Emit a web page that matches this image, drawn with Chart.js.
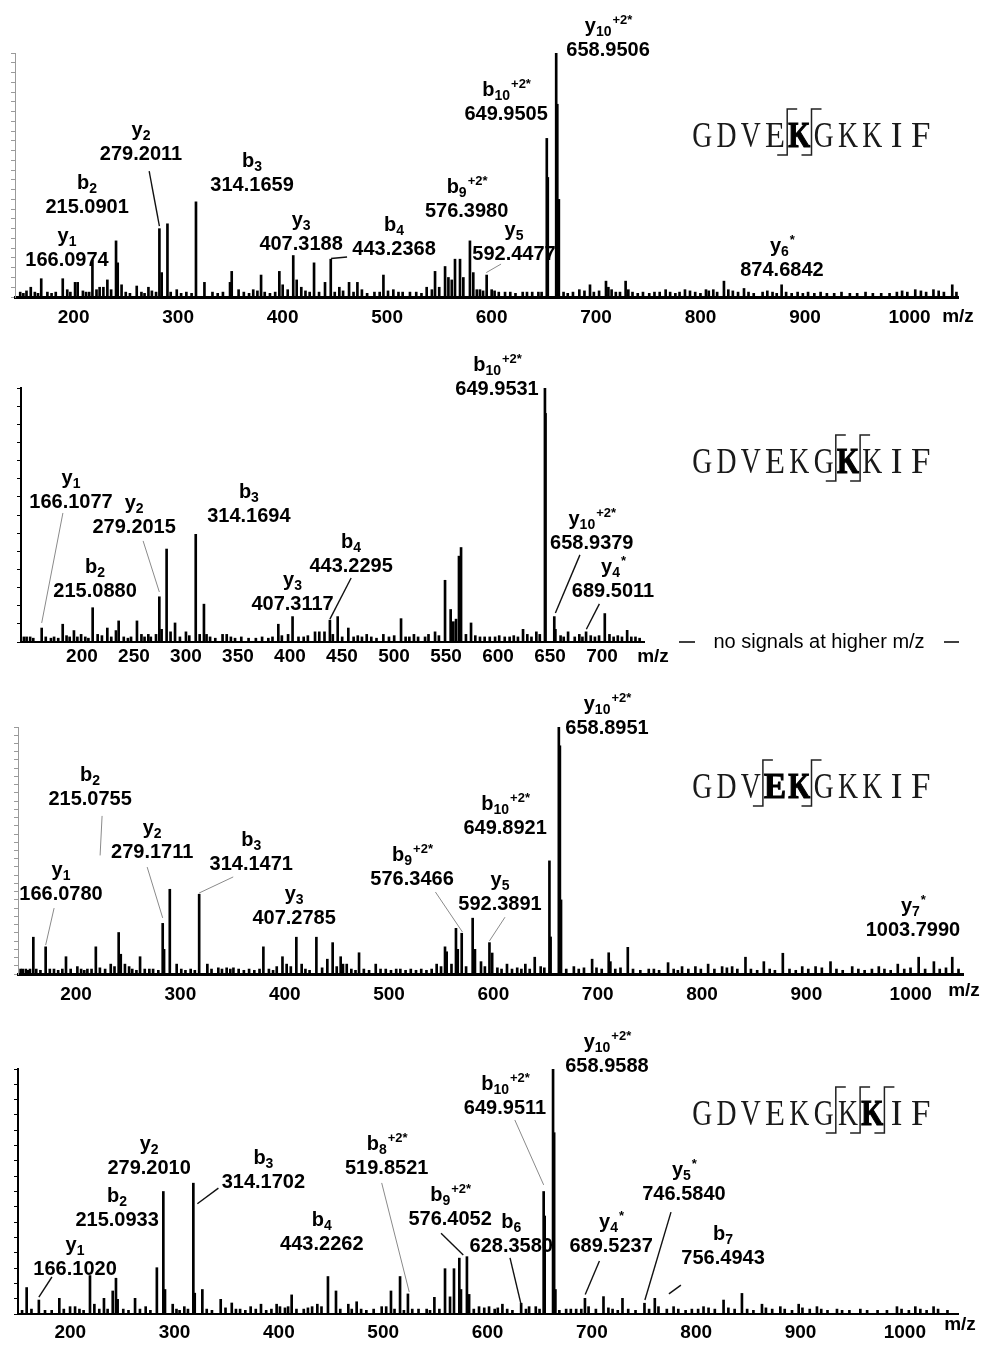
<!DOCTYPE html>
<html>
<head>
<meta charset="utf-8">
<script src="https://cdn.jsdelivr.net/npm/chart.js@4.4.1/dist/chart.umd.min.js"></script>
<style>
  html, body { margin: 0; padding: 0; background: #fff; }
  #wrap { position: relative; width: 981px; height: 1345px; }
  .panel { position: absolute; left: 0; width: 981px; }
  canvas { display: block; }
</style>
</head>
<body>
<div id="wrap">
  <div class="panel" style="top:0;height:335px"><canvas id="c1" width="981" height="335"></canvas></div>
  <div class="panel" style="top:335px;height:335px"><canvas id="c2" width="981" height="335"></canvas></div>
  <div class="panel" style="top:670px;height:340px"><canvas id="c3" width="981" height="340"></canvas></div>
  <div class="panel" style="top:1010px;height:335px"><canvas id="c4" width="981" height="335"></canvas></div>
</div>
<script>
var SANS = '"Liberation Sans", Arial, sans-serif';
var SERIF = '"Liberation Serif", "Times New Roman", serif';

// ===== Data =====
// x tick labels (m/z)
var ticksWide = [200, 300, 400, 500, 600, 700, 800, 900, 1000];
var ticksNarrow = [200, 250, 300, 350, 400, 450, 500, 550, 600, 650, 700];

// peptide sequences
var seq1 = 'GDVEKGKKIF', seq1Bold = [4], seq1Cuts = [4, 5];
var seq2 = 'GDVEKGKKIF', seq2Bold = [6], seq2Cuts = [6, 7];
var seq3 = 'GDVEKGKKIF', seq3Bold = [3, 4], seq3Cuts = [3, 5];
var seq4 = 'GDVEKGKKIF', seq4Bold = [7], seq4Cuts = [6, 7, 8];

// panel 1 peaks [m/z, relative intensity]
var p1Peaks = [
  [156.1,.04],[166.1,.075],[186.7,.075],[198.5,.06],[201.0,.06],[215.1,.15],[222.0,.04],[225.6,.04],
  [229.4,.07],[237.7,.23],[239.3,.14],[243.0,.05],[257.5,.045],[268.7,.04],[279.2,.28],[281.4,.10],
  [286.9,.30],[295.8,.03],[314.2,.39],[322.3,.06],[346.8,.06],[348.4,.105],[369.0,.03],[376.5,.09],
  [394.0,.105],[397.2,.05],[407.3,.17],[410.6,.07],[427.2,.14],[437.7,.06],[443.2,.155],[451.4,.04],
  [460.7,.06],[468.7,.06],[493.6,.09],[503.1,.03],[519.0,.02],[535.0,.04],[543.0,.105],[552.6,.125],
  [555.8,.08],[559.0,.07],[562.1,.155],[566.9,.155],[570.1,.08],[576.4,.23],[579.6,.10],[586.0,.03],
  [592.4,.09],[597.2,.03],[610.0,.02],[626.9,.02],[641.9,.02],[649.95,.65],[650.9,.49],[658.95,1.0],
  [660.0,.79],[661.5,.40],[681.1,.03],[691.3,.05],[706.6,.065],[708.9,.04],[725.4,.065],[728.0,.03],
  [763.7,.03],[782.2,.03],[802.3,.03],[809.3,.03],[819.5,.065],[823.7,.03],[838.7,.035],[856.5,.02],
  [874.7,.05],[884.3,.015],[985.0,.02],[1002.6,.03],[1020.0,.03],[1038.0,.05]
];
var p1Noise = [
  [146,.02],[149,.015],[152,.025],[160,.02],[163,.015],[172,.02],[176,.015],[180,.02],[191,.03],[194,.02],
  [206,.025],[209,.02],[212,.02],[219,.03],[233,.03],[247,.02],[251,.015],[262,.02],[265,.015],[272,.025],
  [276,.02],[290,.02],[300,.015],[305,.02],[310,.015],[330,.02],[335,.015],[340,.02],[355,.03],[360,.02],
  [365,.015],[373,.025],[380,.02],[385,.015],[390,.02],[402,.03],[415,.04],[419,.025],[423,.02],[432,.02],
  [447,.02],[455,.025],[465,.02],[473,.03],[478,.015],[485,.02],[490,.02],[498,.025],[508,.02],[512,.02],
  [525,.02],[530,.015],[540,.03],[547,.04],[583,.03],[589,.025],[600,.025],[604,.02],[615,.02],[620,.015],
  [631,.02],[636,.02],[645,.02],[666,.02],[670,.015],[675,.02],[686,.025],[695,.02],[700,.025],[712,.03],
  [716,.02],[720,.02],[732,.02],[737,.015],[742,.02],[748,.015],[753,.02],[758,.02],[768,.02],[773,.015],
  [777,.02],[787,.025],[792,.02],[797,.015],[805,.025],[813,.02],[828,.025],[833,.02],[843,.02],[848,.015],
  [861,.025],[866,.02],[870,.015],[879,.02],[890,.02],[895,.015],[900,.02],[906,.015],[912,.02],[918,.015],
  [925,.015],[932,.02],[940,.015],[947,.015],[955,.02],[962,.015],[970,.015],[978,.015],[990,.025],[995,.02],
  [1008,.025],[1013,.02],[1025,.025],[1030,.02],[1042,.02]
];
var p1Ions = [
  ['y','1','','166.0974'],['b','2','','215.0901'],['y','2','','279.2011'],['b','3','','314.1659'],
  ['y','3','','407.3188'],['b','4','','443.2368'],['b','9','+2*','576.3980'],['y','5','','592.4477'],
  ['b','10','+2*','649.9505'],['y','10','+2*','658.9506'],['y','6','*','874.6842']
];

// panel 2 peaks
var p2Peaks = [
  [149.0,.02],[151.6,.02],[166.1,.055],[186.3,.07],[197.1,.045],[200.4,.02],[215.1,.135],[219.9,.03],
  [229.2,.055],[237.5,.045],[240.1,.083],[257.7,.083],[268.6,.03],[276.0,.03],[279.2,.178],[281.4,.05],
  [286.2,.366],[294.3,.075],[304.8,.04],[314.2,.424],[322.1,.149],[324.6,.03],[344.0,.03],[393.6,.07],
  [403.0,.03],[407.3,.10],[428.9,.04],[433.0,.04],[443.2,.086],[450.7,.10],[460.9,.055],[478.6,.03],
  [494.6,.03],[511.6,.092],[519.6,.02],[534.7,.02],[544.3,.04],[553.9,.243],[559.3,.128],[561.9,.08],
  [564.5,.09],[567.3,.338],[569.3,.372],[578.9,.075],[587.5,.02],[596.9,.02],[611.3,.02],[628.9,.05],
  [641.7,.04],[649.95,1.0],[650.5,.90],[658.94,.10],[660.0,.05],[672.2,.04],[678.6,.02],[689.5,.04],
  [707.5,.112],[729.0,.046]
];
var p2Noise = [
  [155,.02],[158,.015],[170,.02],[175,.015],[178,.02],[182,.015],[190,.025],[193,.02],[204,.03],[208,.02],
  [211,.015],[224,.025],[233,.02],[245,.02],[249,.015],[252,.02],[262,.03],[265,.02],[271,.02],[290,.04],
  [299,.02],[308,.025],[318,.03],[328,.02],[333,.015],[340,.03],[348,.02],[352,.015],[358,.02],[365,.015],
  [372,.015],[378,.02],[384,.015],[388,.02],[397,.025],[413,.02],[418,.02],[422,.025],[438,.04],[446,.03],
  [455,.02],[466,.02],[470,.025],[474,.02],[483,.02],[488,.015],[500,.02],[505,.025],[516,.02],[524,.03],
  [528,.02],[538,.03],[548,.025],[574,.03],[583,.025],[592,.02],[602,.02],[606,.025],[616,.02],[620,.025],
  [624,.02],[633,.03],[637,.02],[645,.03],[665,.025],[668,.02],[683,.03],[686,.02],[694,.025],[698,.02],
  [702,.025],[712,.03],[716,.02],[720,.025],[724,.02],[733,.02],[737,.02],[741,.015]
];
var p2Ions = [
  ['y','1','','166.1077'],['b','2','','215.0880'],['y','2','','279.2015'],['b','3','','314.1694'],
  ['y','3','','407.3117'],['b','4','','443.2295'],['b','10','+2*','649.9531'],['y','10','+2*','658.9379'],
  ['y','4','*','689.5011']
];

// panel 3 peaks
var p3Peaks = [
  [145.0,.02],[148.0,.02],[152.0,.02],[155.2,.149],[167.0,.11],[186.5,.07],[197.4,.03],[207.0,.02],
  [215.1,.11],[229.4,.04],[237.0,.168],[239.0,.08],[243.0,.04],[257.5,.07],[266.4,.02],[279.2,.205],
  [280.5,.10],[286.0,.343],[292.6,.04],[314.15,.323],[322.0,.04],[332.5,.025],[340.5,.025],[347.0,.025],
  [375.7,.11],[388.5,.03],[394.0,.07],[407.3,.149],[412.4,.04],[426.5,.149],[437.0,.06],[442.1,.127],
  [449.8,.07],[455.6,.04],[467.4,.086],[483.4,.04],[541.8,.04],[549.8,.11],[551.4,.09],[560.3,.185],
  [562.0,.10],[565.8,.165],[576.3,.226],[578.5,.10],[584.3,.05],[592.4,.127],[595.0,.085],[609.2,.04],
  [626.8,.04],[635.8,.068],[641.5,.03],[649.89,.458],[651.0,.15],[658.9,1.0],[659.9,.924],[661.0,.30],
  [673.3,.03],[690.8,.06],[706.7,.086],[708.3,.05],[725.0,.108],[745.1,.02],[763.6,.046],[777.0,.03],
  [789.8,.03],[802.0,.04],[815.4,.03],[825.0,.03],[837.8,.068],[855.4,.05],[873.6,.084],[892.2,.03],
  [905.0,.03],[919.3,.05],[940.1,.03],[965.6,.03],[983.8,.04],[1003.8,.068],[1018.4,.05],[1036.0,.068]
];
var p3Noise = [
  [143,.02],[150,.015],[158,.02],[162,.015],[171,.02],[175,.02],[179,.015],[183,.02],[191,.02],[201,.02],
  [204,.015],[211,.02],[219,.025],[224,.02],[233,.03],[247,.03],[250,.02],[254,.015],[262,.02],[270,.02],
  [275,.015],[297,.02],[301,.015],[306,.02],[310,.015],[326,.02],[336,.02],[344,.02],[352,.02],[357,.015],
  [362,.02],[367,.015],[372,.02],[381,.02],[385,.015],[398,.04],[402,.03],[416,.02],[420,.015],[432,.025],
  [446,.03],[452,.04],[460,.02],[464,.015],[472,.02],[477,.015],[488,.02],[493,.02],[498,.015],[503,.02],
  [507,.02],[512,.015],[517,.02],[522,.015],[527,.02],[532,.015],[537,.02],[546,.03],[556,.04],[570,.03],
  [588,.03],[600,.025],[604,.02],[614,.02],[619,.025],[623,.02],[631,.02],[645,.025],[666,.02],[678,.02],
  [683,.025],[695,.025],[700,.02],[713,.02],[718,.025],[730,.02],[737,.015],[750,.02],[755,.015],[769,.02],
  [773,.015],[783,.02],[795,.02],[808,.02],[820,.025],[830,.02],[843,.02],[849,.015],[861,.02],[866,.015],
  [880,.02],[886,.015],[898,.02],[911,.025],[925,.02],[931,.015],[946,.02],[952,.015],[959,.02],[971,.02],
  [977,.015],[990,.02],[996,.025],[1010,.02],[1024,.02],[1030,.025],[1042,.02]
];
var p3Ions = [
  ['y','1','','166.0780'],['b','2','','215.0755'],['y','2','','279.1711'],['b','3','','314.1471'],
  ['y','3','','407.2785'],['b','9','+2*','576.3466'],['y','5','','592.3891'],['b','10','+2*','649.8921'],
  ['y','10','+2*','658.8951'],['y','7','*','1003.7990']
];

// panel 4 peaks
var p4Peaks = [
  [154.4,.108],[166.1,.057],[178.4,.015],[185.7,.064],[196.0,.03],[200.8,.03],[215.1,.157],[219.3,.04],
  [228.5,.064],[236.9,.094],[240.0,.146],[241.6,.06],[258.3,.064],[268.5,.03],[279.2,.189],[285.4,.50],
  [287.0,.10],[294.4,.04],[305.5,.03],[314.17,.534],[315.5,.085],[322.8,.10],[340.4,.06],[351.0,.045],
  [359.0,.02],[369.1,.03],[379.0,.04],[394.0,.04],[397.2,.03],[408.4,.078],[420.0,.02],[428.0,.03],
  [433.0,.04],[443.2,.153],[450.9,.094],[462.7,.04],[470.7,.05],[494.7,.03],[503.6,.094],[512.3,.153],
  [519.85,.082],[537.8,.02],[545.2,.068],[555.4,.185],[560.2,.07],[564.0,.185],[569.1,.228],[570.7,.10],
  [576.4,.234],[578.5,.08],[588.0,.03],[597.6,.03],[610.4,.04],[628.36,.044],[636.0,.03],[642.4,.03],
  [649.95,.50],[650.9,.40],[658.96,1.0],[660.0,.74],[661.2,.10],[671.5,.02],[681.1,.02],[689.52,.064],
  [707.3,.071],[725.5,.064],[746.58,.044],[756.49,.064],[774.5,.03],[803.2,.03],[822.4,.057],[840.0,.084],
  [859.2,.04],[876.8,.03],[894.4,.04],[911.9,.03],[931.1,.02],[953.5,.02],[988.6,.03],[1006.2,.03],
  [1023.7,.03]
];
var p4Noise = [
  [150,.015],[159,.02],[172,.015],[190,.02],[205,.02],[209,.015],[224,.02],[232,.02],[247,.02],[252,.015],
  [263,.02],[273,.015],[298,.02],[301,.015],[309,.02],[327,.02],[332,.015],[345,.025],[355,.02],[364,.015],
  [374,.02],[384,.015],[389,.02],[402,.025],[405,.03],[413,.02],[424,.025],[437,.03],[455,.02],[466,.02],
  [475,.02],[480,.015],[487,.02],[499,.03],[507,.02],[516,.015],[524,.02],[530,.02],[541,.015],[550,.02],
  [583,.02],[593,.025],[603,.02],[606,.025],[615,.02],[620,.015],[633,.02],[646,.02],[665,.015],[676,.02],
  [686,.02],[693,.03],[700,.02],[712,.025],[716,.02],[721,.015],[731,.02],[738,.015],[751,.02],[760,.03],
  [768,.02],[779,.02],[786,.015],[792,.02],[798,.02],[808,.025],[814,.02],[827,.025],[833,.02],[845,.02],
  [851,.015],[863,.025],[869,.02],[881,.02],[888,.015],[898,.025],[905,.02],[916,.02],[922,.015],[936,.015],
  [943,.015],[960,.015],[970,.015],[979,.015],[993,.02],[1000,.015],[1011,.02],[1017,.015],[1028,.02],[1037,.015]
];
var p4Ions = [
  ['y','1','','166.1020'],['b','2','','215.0933'],['y','2','','279.2010'],['b','3','','314.1702'],
  ['b','4','','443.2262'],['b','8','+2*','519.8521'],['b','9','+2*','576.4052'],['b','6','','628.3580'],
  ['b','10','+2*','649.9511'],['y','10','+2*','658.9588'],['y','4','*','689.5237'],['y','5','*','746.5840'],
  ['b','7','','756.4943']
];

// ===== Label placement (centre of the m/z number, in axis units) =====
var p1LabelAt = [[190.8,.156],[210,.373],[261.6,.59],[367.9,.463],[414.8,.221],[503.8,.20],[573.2,.357],
  [618.6,.18],[611,.754],[708.6,1.016],[875,.115]];
var p1Leaders = [[269.4,.516,279.2,.29,'k'],[458.8,.164,443.5,.158,'k'],[606.2,.135,592.0,.10,'g']];

var p2LabelAt = [[194.3,.555],[217.4,.205],[255,.457],[365.3,.5],[407.3,.154],[463.6,.303],[603.9,1.0],
  [695,.394],[715.4,.205]];
var p2Leaders = [[186.5,.508,166.1,.075,'g'],[263.6,.398,279.2,.197,'g'],[463.6,.252,443.2,.09,'k'],
  [683.6,.343,660.0,.114,'k'],[702.3,.15,689.8,.05,'k']];

var p3LabelAt = [[181.7,.328],[209.6,.713],[269.1,.498],[364.1,.449],[405.2,.231],[518.2,.389],[602.5,.287],
  [607.4,.595],[705.1,1.0],[998.3,.182]];
var p3Leaders = [[175.1,.267,167,.117,'g'],[221.1,.64,219.2,.48,'g'],[264.3,.433,279.2,.227,'g'],
  [346.8,.393,314.2,.328,'g'],[540.6,.332,566.5,.17,'g'],[607.3,.23,592.4,.134,'g']];

var p4LabelAt = [[200.8,.188],[241.1,.388],[271.8,.6],[381.3,.543],[437.3,.29],[499.5,.6],[560.3,.392],
  [618.9,.282],[612.9,.845],[710.6,1.016],[714.6,.282],[784.4,.494],[821.9,.233]];
var p4Leaders = [[178.6,.151,166.1,.069,'k'],[338.2,.514,318,.45,'k'],[494.7,.535,521.1,.09,'g'],
  [551.6,.33,572.9,.241,'k'],[617.7,.229,628.4,.037,'k'],[622.3,.792,649.95,.527,'g'],
  [703.4,.216,689.8,.08,'k'],[772,.416,747,.057,'k'],[781.5,.118,770,.082,'k']];

// ===== Panels =====
var panels = [
  { id:'c1', h:335, left:15, right:958, top:53, bottom:297, xMin:141, xMax:1043.5, ticks:ticksWide,
    labelOffset:-3, tickPad:9, ySteps:25, yColor:'#9a9a9a', yWidth:1, baseWidth:3,
    peaks:p1Peaks, noise:p1Noise, ions:p1Ions, labelAt:p1LabelAt, leaders:p1Leaders,
    seq:seq1, seqBold:seq1Bold, seqCuts:seq1Cuts, seqBase:147, mzDx:0, mzDy:20 },
  { id:'c2', h:335, left:21, right:644, top:53, bottom:307, xMin:146.2, xMax:745.2, ticks:ticksNarrow,
    labelOffset:5, tickPad:3, ySteps:14, yColor:'#000', yWidth:2, baseWidth:2,
    peaks:p2Peaks, noise:p2Noise, ions:p2Ions, labelAt:p2LabelAt, leaders:p2Leaders,
    seq:seq2, seqBold:seq2Bold, seqCuts:seq2Cuts, seqBase:138, mzDx:9, mzDy:15, noSignals:true },
  { id:'c3', h:340, left:18, right:963, top:57, bottom:304, xMin:140.5, xMax:1046.3, ticks:ticksWide,
    labelOffset:-4, tickPad:9, ySteps:30, yColor:'#9a9a9a', yWidth:1, baseWidth:3,
    peaks:p3Peaks, noise:p3Noise, ions:p3Ions, labelAt:p3LabelAt, leaders:p3Leaders,
    seq:seq3, seqBold:seq3Bold, seqCuts:seq3Cuts, seqBase:128, mzDx:1, mzDy:17 },
  { id:'c4', h:335, left:18, right:958, top:59, bottom:304, xMin:146.1, xMax:1047.1, ticks:ticksWide,
    labelOffset:-4, tickPad:7, ySteps:16, yColor:'#000', yWidth:2, baseWidth:2,
    peaks:p4Peaks, noise:p4Noise, ions:p4Ions, labelAt:p4LabelAt, leaders:p4Leaders,
    seq:seq4, seqBold:seq4Bold, seqCuts:seq4Cuts, seqBase:115, mzDx:2, mzDy:11 }
];

function toPoints(list) {
  return list.map(function(d) { return { x: d[0], y: d[1] }; });
}

// ion name with subscript / superscript, then the m/z number below it
function drawIon(c, cx, cy, ion) {
  var f1 = 'bold 20px ' + SANS, f2 = 'bold 14px ' + SANS, f3 = 'bold 13px ' + SANS;
  c.font = f1; var w1 = c.measureText(ion[0]).width;
  c.font = f2; var w2 = ion[1] ? c.measureText(ion[1]).width : 0;
  c.font = f3; var w3 = ion[2] ? c.measureText(ion[2]).width : 0;
  var x = cx - (w1 + w2 + w3) / 2;
  var base = cy - 17;
  c.textAlign = 'left';
  c.textBaseline = 'alphabetic';
  c.font = f1; c.fillText(ion[0], x, base); x += w1;
  if (ion[1]) { c.font = f2; c.fillText(ion[1], x, base + 4); x += w2; }
  if (ion[2]) { c.font = f3; c.fillText(ion[2], x + 1, base - 8); }
  c.font = 'bold 20px ' + SANS;
  c.textAlign = 'center';
  c.fillText(ion[3], cx, cy + 7);
}

// typewriter-like sequence: fixed cells, letters squeezed to fit
function drawSeq(c, p) {
  var x0 = 690, cw = 24.3, base = p.seqBase;
  c.textAlign = 'center';
  c.textBaseline = 'alphabetic';
  for (var i = 0; i < p.seq.length; i++) {
    var bold = p.seqBold.indexOf(i) >= 0;
    c.font = (bold ? 'bold ' : '') + '35px ' + SERIF;
    var w = c.measureText(p.seq[i]).width;
    var maxW = bold ? 22 : 20;
    var s = w > maxW ? maxW / w : 1;
    c.save();
    c.translate(x0 + (i + 0.5) * cw, base);
    c.scale(s, 1);
    c.fillStyle = bold ? '#000' : '#1a1a1a';
    c.fillText(p.seq[i], 0, 0);
    if (bold) {
      c.lineWidth = 1.2;
      c.strokeStyle = '#000';
      c.strokeText(p.seq[i], 0, 0);
    }
    c.restore();
  }
  // cleavage markers
  c.strokeStyle = '#222';
  c.lineWidth = 1.5;
  p.seqCuts.forEach(function(k) {
    var x = x0 + k * cw;
    c.beginPath();
    c.moveTo(x + 10, base - 38);
    c.lineTo(x, base - 38);
    c.lineTo(x, base + 8);
    c.lineTo(x - 10, base + 8);
    c.stroke();
  });
}

function makeAnnot(p) {
  return {
    id: 'annot_' + p.id,
    afterDraw: function(chart) {
      var c = chart.ctx, xs = chart.scales.x, ys = chart.scales.y, a = chart.chartArea;
      c.save();
      // leader lines
      p.leaders.forEach(function(l) {
        c.beginPath();
        c.strokeStyle = l[4] === 'k' ? '#111' : '#8a8a8a';
        c.lineWidth = l[4] === 'k' ? 1.4 : 1;
        c.moveTo(xs.getPixelForValue(l[0]), ys.getPixelForValue(l[1]));
        c.lineTo(xs.getPixelForValue(l[2]), ys.getPixelForValue(l[3]));
        c.stroke();
      });
      c.fillStyle = '#000';
      p.ions.forEach(function(ion, i) {
        var pos = p.labelAt[i];
        drawIon(c, xs.getPixelForValue(pos[0]), ys.getPixelForValue(pos[1]), ion);
      });
      // axis unit
      c.font = 'bold 19px ' + SANS;
      c.textAlign = 'center';
      c.textBaseline = 'middle';
      c.fillText('m/z', a.right + p.mzDx, a.bottom + p.mzDy);
      if (p.noSignals) {
        c.font = '20px ' + SANS;
        c.fillText('no signals at higher m/z', 819, a.bottom);
        c.lineWidth = 1.5;
        c.strokeStyle = '#000';
        c.beginPath();
        c.moveTo(679, a.bottom); c.lineTo(695, a.bottom);
        c.moveTo(944, a.bottom); c.lineTo(959, a.bottom);
        c.stroke();
      }
      drawSeq(c, p);
      c.restore();
    }
  };
}

panels.forEach(function(p) {
  var ctx = document.getElementById(p.id);
  new Chart(ctx, {
    type: 'bar',
    data: {
      datasets: [
        { data: toPoints(p.peaks), backgroundColor: '#000', barThickness: 2, grouped: false },
        { data: toPoints(p.noise), backgroundColor: '#000', barThickness: 2, grouped: false }
      ]
    },
    options: {
      responsive: false,
      animation: false,
      events: [],
      layout: { padding: { left: 0, right: 981 - p.right, top: p.top, bottom: p.h - p.bottom - 28 } },
      plugins: { legend: { display: false }, tooltip: { enabled: false } },
      scales: {
        x: {
          type: 'linear',
          min: p.xMin,
          max: p.xMax,
          offset: false,
          grid: { display: true, drawOnChartArea: false, drawTicks: false },
          border: { display: true, color: '#000', width: p.baseWidth },
          ticks: {
            autoSkip: false,
            maxRotation: 0,
            padding: p.tickPad,
            labelOffset: p.labelOffset,
            color: '#000',
            font: { family: SANS, size: 19, weight: 'bold' },
            callback: function(v) { return String(v); }
          },
          afterBuildTicks: function(s) { s.ticks = p.ticks.map(function(v) { return { value: v }; }); },
          afterFit: function(s) { s.height = 28; }
        },
        y: {
          min: 0,
          max: 1,
          grid: { display: true, drawOnChartArea: false, drawTicks: true, tickLength: 4, color: p.yColor, lineWidth: 1 },
          border: { display: true, color: p.yColor, width: p.yWidth },
          ticks: { display: false, autoSkip: false },
          afterBuildTicks: function(s) {
            var t = [];
            for (var i = 0; i <= p.ySteps; i++) t.push({ value: i / p.ySteps });
            s.ticks = t;
          },
          afterFit: function(s) { s.width = p.left; }
        }
      }
    },
    plugins: [makeAnnot(p)]
  });
});
</script>
</body>
</html>
